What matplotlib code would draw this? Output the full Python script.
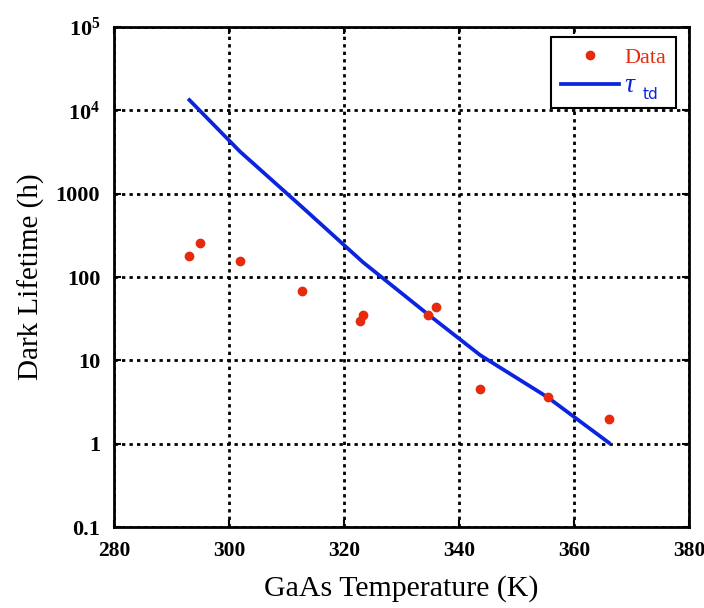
import matplotlib.pyplot as plt
import numpy as np

# data
temp_data = [293.1, 294.9, 301.9, 312.6, 322.8, 323.3, 334.5, 335.9, 343.7, 355.4, 366.0]
life_data = [179, 259, 155, 68, 30, 35, 35, 44, 4.5, 3.6, 2.0]

temp_fit = [293.1, 301.9, 312.6, 323.3, 334.5, 343.7, 355.4, 366.0]
tau_fit = [13300, 3200, 700, 150, 36, 11.5, 3.6, 1.03]

xticks = [280, 300, 320, 340, 360, 380]
yticks = [0.1, 1, 10, 100, 1000, 1e4, 1e5]
ytick_labels = ['0.1', '1', '10', '100', '1000', r'$\mathbf{10^4}$', r'$\mathbf{10^5}$']

plt.rcParams['font.family'] = ['Liberation Serif', 'DejaVu Serif']
plt.rcParams['mathtext.fontset'] = 'custom'
plt.rcParams['mathtext.rm'] = 'Liberation Serif'
plt.rcParams['mathtext.bf'] = 'Liberation Serif:bold'
plt.rcParams['mathtext.it'] = 'Liberation Serif:italic'

fig = plt.figure(figsize=(7.04, 6.08), dpi=100)
ax = fig.add_axes([0.162, 0.1332, 0.817, 0.8224])

ax.plot(temp_data, life_data, 'o', color='#e8290b', markersize=6, label='Data', zorder=3)
ax.plot(temp_fit, tau_fit, color='#0a24e0', linewidth=2.7, label=r'$\tau$', zorder=2)

ax.set_yscale('log')
ax.set_xlim(280, 380)
ax.set_ylim(0.1, 1e5)
ax.set_xticks(xticks)
ax.set_xticklabels([str(t) for t in xticks], fontweight='bold', fontsize=15.5)
ax.set_yticks(yticks)
ax.set_yticklabels(ytick_labels, fontweight='bold', fontsize=16)
ax.yaxis.set_minor_locator(plt.NullLocator())
ax.tick_params(direction='in', length=5, width=1.5, top=True, right=True)
ax.tick_params(axis='y', pad=10)
ax.tick_params(axis='x', pad=10)

ax.grid(True, color='black', linestyle=(0, (1.2, 1.5)), linewidth=2)
for s in ax.spines.values():
    s.set_linewidth(2)

ax.set_xlabel('GaAs Temperature (K)', fontsize=21.5, labelpad=10)
ax.set_ylabel('Dark Lifetime (h)', fontsize=21, labelpad=8)

leg = ax.legend(loc='upper right', bbox_to_anchor=(0.977, 0.98), borderaxespad=0,
                fontsize=16, frameon=True, fancybox=False, framealpha=1,
                edgecolor='black', handlelength=2.6, borderpad=0.45,
                handletextpad=0.25, labelspacing=0.25)
leg.get_frame().set_linewidth(1.5)
texts = leg.get_texts()
texts[0].set_color('#e8290b')
texts[1].set_color('#0a24e0')
texts[1].set_fontsize(20)
# subscript "td" for tau
fig.canvas.draw()
bb = texts[1].get_window_extent().transformed(ax.transAxes.inverted())
ax.text(bb.x1 + 0.01, bb.y0 - 0.008, 'td', transform=ax.transAxes, color='#0a24e0',
        fontsize=11, family='DejaVu Sans', va='bottom', zorder=6)

fig.savefig('out.png', dpi=100)
